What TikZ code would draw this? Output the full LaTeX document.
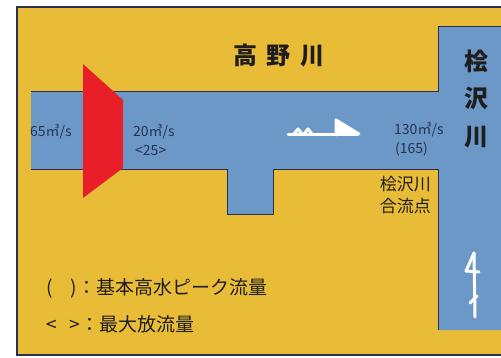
\documentclass[tikz,border=0pt]{standalone}
\usepackage{fontspec}
\setmainfont{Noto Sans CJK JP}
\definecolor{bgyellow}{RGB}{233,188,55}
\definecolor{river}{RGB}{108,152,200}
\definecolor{dam}{RGB}{232,30,40}
\definecolor{edge}{RGB}{45,45,80}
\definecolor{ink}{RGB}{30,30,30}
\definecolor{flowink}{RGB}{40,50,80}
\tikzset{
  edgeline/.style={draw=edge, line width=1pt, line join=miter},
  flowarrow/.style={draw=white, line width=3pt, line cap=round, line join=round},
  bigname/.style={font=\fontsize{24}{37.5}\selectfont\bfseries, text=ink, inner sep=0pt, align=center},
  flowlabel/.style={font=\fontsize{14}{14}\selectfont, text=flowink, inner sep=0pt, anchor=west},
  smalllabel/.style={font=\fontsize{17}{22}\selectfont, text=ink, inner sep=0pt, align=right},
  legend/.style={font=\fontsize{19}{19}\selectfont, text=ink, inner sep=0pt, anchor=west},
}
\begin{document}
\begin{tikzpicture}[x=1pt,y=-1pt]
\useasboundingbox (0,0) rectangle (501,358);
\fill[white] (0,0) rectangle (501,358);
\fill[bgyellow] (17,7) rectangle (501,355);
\draw[edge, line width=1.2pt] (501,7) -- (17,7) -- (17,355) -- (501,355);
% rivers
\fill[river] (31,92) -- (438,92) -- (438,27) -- (501,27) -- (501,330) -- (438,330)
  -- (438,170) -- (273,170) -- (273,215) -- (227,215) -- (227,170) -- (31,170) -- cycle;
\draw[edgeline] (31,92) -- (438,92) -- (438,27) -- (501,27);
\draw[edgeline] (438,330) -- (438,170) -- (273,170) -- (273,215) -- (227,215) -- (227,170) -- (31,170);
% dam
\fill[dam] (83,64) -- (123,100) -- (123,168) -- (83,198) -- cycle;
% flow arrows
\draw[flowarrow] (288,135) -- (358,135);
\fill[white] (336,135) -- (336,120) -- (359,134) -- cycle;
\draw[flowarrow] (336,135) -- (336,120) -- (359,134);
\draw[flowarrow] (294,134) -- (298,129) -- (302,134);
\draw[flowarrow] (304,134) -- (308,129) -- (312,134);
\draw[flowarrow] (474,253) -- (475,317);
\draw[flowarrow] (474,253) -- (466,271) -- (479,272);
\draw[flowarrow] (470,303) -- (477,296);
% names
\node[bigname] (takano) at (279,55) {高\hspace{10pt}野\hspace{10pt}川};
\node[bigname] (hizawa) at (476,99) {桧\\沢\\川};
% flows
\node[flowlabel] (q65) at (30,132) {65㎥/s};
\node[flowlabel] (q20) at (133,132) {20㎥/s};
\node[flowlabel] (q20max) at (135,151) {<25>};
\node[flowlabel] (q130) at (394,130) {130㎥/s};
\node[flowlabel] (q165) at (395,149) {(165)};
\node[smalllabel, anchor=east] (junction) at (431,195) {桧沢川\\合流点};
% legend
\node[legend] (leg1) at (46,288) {(\hspace{18pt})：基本高水ピーク流量};
\node[legend] (leg2) at (46,324) {<\hspace{13pt}>：最大放流量};
\end{tikzpicture}
\end{document}
